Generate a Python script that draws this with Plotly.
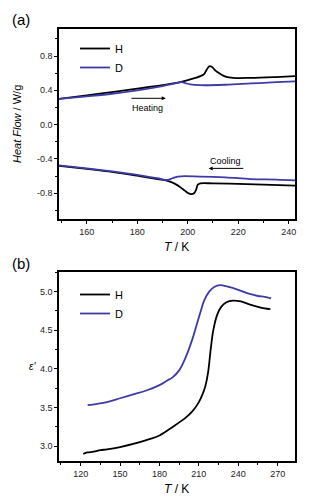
import plotly.graph_objects as go

# ---------- Panel (a): DSC ----------
h_heat_T = [149, 160, 170, 180, 190, 196, 200, 203, 205, 206.5, 207.5, 208.5, 209.5, 211, 213, 215, 218, 225, 235, 242.5]
h_heat = [0.30, 0.34, 0.38, 0.42, 0.46, 0.49, 0.52, 0.545, 0.565, 0.59, 0.64, 0.68, 0.675, 0.63, 0.59, 0.56, 0.545, 0.545, 0.555, 0.565]

d_heat_T = [149, 160, 170, 180, 190, 195, 197.5, 199, 201, 205, 215, 225, 235, 242.5]
d_heat = [0.30, 0.33, 0.36, 0.40, 0.45, 0.48, 0.495, 0.485, 0.47, 0.46, 0.465, 0.48, 0.495, 0.505]

h_cool_T = [149, 160, 170, 180, 188, 192, 195, 198, 200, 201.5, 202.5, 203.3, 204, 205, 210, 220, 230, 242.5]
h_cool = [-0.48, -0.515, -0.55, -0.595, -0.635, -0.655, -0.69, -0.75, -0.795, -0.81, -0.80, -0.76, -0.70, -0.685, -0.685, -0.69, -0.70, -0.71]

d_cool_T = [149, 160, 170, 180, 188, 192, 194, 196, 205, 215, 225, 235, 242.5]
d_cool = [-0.475, -0.51, -0.545, -0.585, -0.625, -0.645, -0.625, -0.605, -0.605, -0.615, -0.635, -0.64, -0.65]

# ---------- Panel (b): permittivity ----------
h_eps_T = [122, 125, 130, 135, 140, 150, 160, 170, 180, 190, 200, 205, 210, 213, 215, 217, 219, 221, 224, 227, 231, 236, 242, 249, 255, 260, 264.5]
h_eps = [2.90, 2.92, 2.93, 2.95, 2.96, 2.99, 3.03, 3.08, 3.14, 3.25, 3.37, 3.45, 3.57, 3.68, 3.78, 3.95, 4.25, 4.50, 4.70, 4.80, 4.86, 4.88, 4.87, 4.83, 4.80, 4.78, 4.77]

d_eps_T = [125.3, 130, 140, 150, 160, 170, 180, 186, 190, 195, 200, 205, 208, 211, 214, 218, 222, 226, 232, 240, 248, 255, 260, 265]
d_eps = [3.53, 3.54, 3.57, 3.62, 3.67, 3.72, 3.79, 3.85, 3.89, 3.98, 4.15, 4.38, 4.55, 4.72, 4.88, 5.00, 5.06, 5.08, 5.06, 5.02, 4.97, 4.94, 4.93, 4.91]

BLACK = "#000000"
BLUE = "#3c3ca8"
FONT = "Liberation Sans, Arial, sans-serif"

fig = go.Figure()
fig.add_trace(go.Scatter(x=h_heat_T, y=h_heat, mode="lines", line=dict(color=BLACK, width=1.8, shape="spline"),
                         name="H", legend="legend", xaxis="x", yaxis="y"))
fig.add_trace(go.Scatter(x=d_heat_T, y=d_heat, mode="lines", line=dict(color=BLUE, width=1.8, shape="spline"),
                         name="D", legend="legend", xaxis="x", yaxis="y"))
fig.add_trace(go.Scatter(x=h_cool_T, y=h_cool, mode="lines", line=dict(color=BLACK, width=1.8, shape="spline"),
                         showlegend=False, xaxis="x", yaxis="y"))
fig.add_trace(go.Scatter(x=d_cool_T, y=d_cool, mode="lines", line=dict(color=BLUE, width=1.8, shape="spline"),
                         showlegend=False, xaxis="x", yaxis="y"))
fig.add_trace(go.Scatter(x=h_eps_T, y=h_eps, mode="lines", line=dict(color=BLACK, width=1.8, shape="spline"),
                         name="H", legend="legend2", xaxis="x2", yaxis="y2"))
fig.add_trace(go.Scatter(x=d_eps_T, y=d_eps, mode="lines", line=dict(color=BLUE, width=1.8, shape="spline"),
                         name="D", legend="legend2", xaxis="x2", yaxis="y2"))

# The page body has an 8px default margin; lay out in window pixels and compensate.
OFF = 8
W, H = 313 - OFF, 501 - OFF
def px_x(p): return (p - OFF) / W
def px_y(p): return 1 - (p - OFF) / H

axis_common = dict(showline=True, linecolor="black", linewidth=1.5, mirror=True, ticks="outside",
                   ticklen=3, tickwidth=1, tickcolor="black", showgrid=False, zeroline=False,
                   tickfont=dict(family=FONT, size=9, color="#222"))

fig.update_layout(
    width=W, height=H, margin=dict(l=0, r=0, t=0, b=0, autoexpand=False),
    paper_bgcolor="white", plot_bgcolor="white", font=dict(family=FONT),
    xaxis=dict(domain=[px_x(59), px_x(295)], range=[149, 242.5], anchor="y",
               tickvals=[160, 180, 200, 220, 240],
               minor=dict(dtick=10, tick0=150, ticks="outside", ticklen=2, tickcolor="black"), **axis_common),
    yaxis=dict(domain=[px_y(219), px_y(29)], range=[-1.1, 1.115], anchor="x",
               tickvals=[-0.8, -0.4, 0.0, 0.4, 0.8], ticktext=["-0.8", "-0.4", "0.0", "0.4", "0.8"],
               minor=dict(dtick=0.2, tick0=0, ticks="outside", ticklen=2, tickcolor="black"), **axis_common),
    xaxis2=dict(domain=[px_x(59), px_x(295)], range=[103.5, 283.2], anchor="y2",
                tickvals=[120, 150, 180, 210, 240, 270],
                minor=dict(dtick=15, tick0=105, ticks="outside", ticklen=2, tickcolor="black"), **axis_common),
    yaxis2=dict(domain=[px_y(461), px_y(272)], range=[2.81, 5.25], anchor="x2",
                tickvals=[3.0, 3.5, 4.0, 4.5, 5.0], ticktext=["3.0", "3.5", "4.0", "4.5", "5.0"],
                minor=dict(dtick=0.25, tick0=3.0, ticks="outside", ticklen=2, tickcolor="black"), **axis_common),
    legend=dict(x=px_x(75), y=px_y(34), xanchor="left", yanchor="top", bgcolor="rgba(0,0,0,0)",
                font=dict(family=FONT, size=11, color="black"), tracegroupgap=0, itemwidth=30),
    legend2=dict(x=px_x(75), y=px_y(280), xanchor="left", yanchor="top", bgcolor="rgba(0,0,0,0)",
                 font=dict(family=FONT, size=11, color="black"), tracegroupgap=0, itemwidth=30),
    showlegend=True,
)

ann = []
def txt(x, y, t, size, **kw):
    ann.append(dict(x=px_x(x), y=px_y(y), xref="paper", yref="paper", text=t, showarrow=False,
                    xanchor="center", yanchor="middle",
                    font=dict(family=FONT, size=size, color="black"), **kw))

txt(21, 20, "(a)", 15)
txt(21, 263, "(b)", 15)
txt(176, 247, "<i>T</i> / K", 12)
txt(176, 489, "<i>T</i> / K", 12)
txt(17, 124, "<i>Heat Flow</i> / W/g", 11, textangle=-90)
txt(33, 366, "<i>ε'</i>", 10)

# Heating / Cooling labels and arrows in data coordinates
ann.append(dict(x=184.2, y=0.19, xref="x", yref="y", text="Heating", showarrow=False,
                xanchor="center", yanchor="middle", font=dict(family=FONT, size=9, color="black")))
ann.append(dict(x=191.3, y=0.307, ax=177.1, ay=0.307, xref="x", yref="y", axref="x", ayref="y",
                text="", showarrow=True, arrowhead=2, arrowsize=0.8, arrowwidth=1, arrowcolor="black"))
ann.append(dict(x=215.1, y=-0.42, xref="x", yref="y", text="Cooling", showarrow=False,
                xanchor="center", yanchor="middle", font=dict(family=FONT, size=9, color="black")))
ann.append(dict(x=208.3, y=-0.51, ax=222.6, ay=-0.51, xref="x", yref="y", axref="x", ayref="y",
                text="", showarrow=True, arrowhead=2, arrowsize=0.8, arrowwidth=1, arrowcolor="black"))

fig.update_layout(annotations=ann)
fig.write_html("out.html")
